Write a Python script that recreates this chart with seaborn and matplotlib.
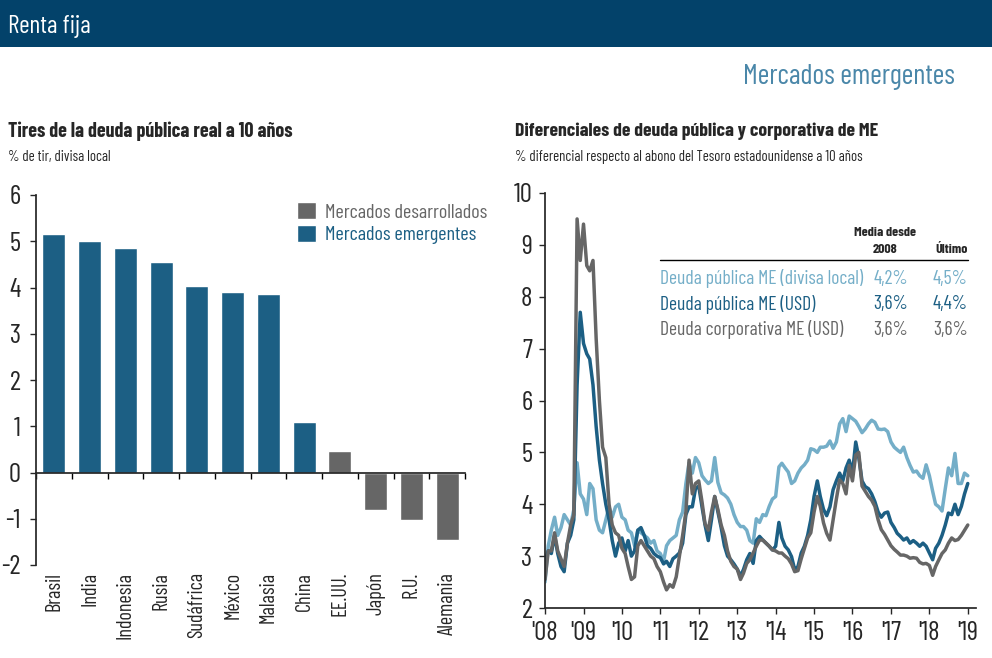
import numpy as np
import pandas as pd
import matplotlib
matplotlib.use("Agg")
import matplotlib.pyplot as plt
import matplotlib.dates as mdates
from matplotlib.patches import Rectangle
from matplotlib import font_manager as fm
import seaborn as sns

# %% datos: tires reales a 10 años
paises = ["Brasil", "India", "Indonesia", "Rusia", "Sudáfrica", "México",
          "Malasia", "China", "EE.UU.", "Japón", "R.U.", "Alemania"]
tir_real = [5.16, 5.01, 4.86, 4.56, 4.04, 3.91, 3.85, 1.10, 0.47, -0.82, -1.03, -1.45]
grupo = ["Mercados emergentes"] * 8 + ["Mercados desarrollados"] * 4
grupos_orden = ["Mercados desarrollados", "Mercados emergentes"]

# %% datos: diferenciales mensuales ene-2008 .. ene-2019
fechas = pd.date_range("2008-01-01", "2019-01-01", freq="MS")
deuda_local = [
    2.5, 3.2, 3.5, 3.75, 3.4, 3.55, 3.8, 3.7, 3.6, 3.9, 4.8, 4.2,
    4.1, 3.8, 4.4, 4.3, 3.7, 3.5, 3.45, 3.7, 3.95, 3.75, 3.95, 4.0,
    3.75, 3.7, 3.5, 3.45, 3.2, 3.5, 3.45, 3.4, 3.35, 3.25, 3.3, 3.1,
    3.05, 2.9, 3.2, 3.3, 3.35, 3.4, 3.7, 3.85, 4.4, 4.8, 4.6, 4.9,
    4.8, 4.55, 4.47, 4.4, 4.45, 4.9, 4.42, 4.22, 4.18, 4.12, 4.0, 3.8,
    3.65, 3.57, 3.57, 3.5, 3.3, 3.25, 3.72, 3.65, 3.8, 3.78, 3.96, 4.1,
    4.15, 4.72, 4.79, 4.7, 4.62, 4.4, 4.45, 4.6, 4.7, 4.76, 4.85, 5.07,
    5.05, 5.0, 5.1, 5.1, 5.12, 5.22, 5.08, 5.2, 5.55, 5.65, 5.4, 5.7,
    5.65, 5.6, 5.5, 5.38, 5.45, 5.55, 5.62, 5.58, 5.45, 5.44, 5.45, 5.4,
    5.2, 5.1, 5.05, 5.0, 5.1, 4.9, 4.75, 4.62, 4.64, 4.55, 4.5, 4.76,
    4.55, 4.25, 4.0, 3.95, 3.87, 4.3, 4.7, 4.55, 4.98, 4.4, 4.4, 4.6,
    4.55]
deuda_usd = [
    2.9, 3.1, 3.05, 3.4, 3.05, 2.8, 2.7, 3.25, 3.4, 3.7, 6.3, 7.7,
    7.1, 6.9, 6.8, 6.3, 5.5, 4.85, 4.4, 4.0, 3.7, 3.3, 3.0, 3.25,
    3.35, 3.1, 3.3, 3.0, 3.1, 3.5, 3.55, 3.4, 3.2, 3.15, 3.05, 3.0,
    2.97, 2.85, 2.9, 2.8, 2.95, 3.0, 3.06, 3.25, 3.8, 3.95, 3.95, 4.3,
    4.35, 3.95, 3.6, 3.3, 3.7, 4.15, 3.85, 3.55, 3.2, 3.0, 2.93, 2.85,
    2.75, 2.62, 2.74, 2.93, 3.05, 2.86, 3.3, 3.38, 3.31, 3.25, 3.19, 3.12,
    3.19, 3.65, 3.35, 3.19, 3.12, 2.99, 2.74, 2.8, 3.06, 3.19, 3.4, 3.7,
    4.15, 4.45, 4.15, 3.9, 3.78, 3.95, 4.28, 4.45, 4.6, 4.45, 4.7, 4.85,
    4.6, 5.2, 4.9, 4.45, 4.34, 4.3, 4.2, 4.05, 3.85, 3.75, 3.83, 3.85,
    3.65, 3.55, 3.44, 3.38, 3.31, 3.35, 3.25, 3.3, 3.25, 3.19, 3.25, 3.19,
    3.06, 2.93, 3.15, 3.25, 3.4, 3.6, 3.83, 3.8, 4.0, 3.8, 3.96, 4.2,
    4.4]
deuda_corp = [
    2.55, 3.1, 3.1, 3.45, 3.1, 2.95, 2.8, 3.25, 3.6, 3.8, 9.5, 8.7,
    9.4, 8.6, 8.5, 8.7, 7.2, 6.0, 5.1, 4.9, 4.0, 3.6, 3.45, 3.4,
    3.15, 3.05, 2.8, 2.55, 2.6, 3.2, 3.3, 3.2, 3.1, 3.0, 2.95, 2.8,
    2.7, 2.5, 2.35, 2.45, 2.4, 2.6, 3.0, 3.4, 3.85, 4.85, 4.2, 4.4,
    4.45, 4.05, 3.62, 3.5, 3.85, 4.15, 3.9, 3.6, 3.4, 3.1, 2.9, 2.8,
    2.75, 2.55, 2.67, 2.86, 2.93, 3.06, 3.19, 3.31, 3.31, 3.25, 3.19, 3.12,
    3.1, 3.06, 3.06, 3.0, 2.95, 2.85, 2.7, 2.72, 2.95, 3.15, 3.35, 3.45,
    3.85, 4.15, 3.96, 3.64, 3.44, 3.31, 3.7, 4.1, 4.47, 4.4, 4.2, 4.75,
    4.45, 4.95, 5.0, 4.35, 4.25, 4.15, 4.08, 3.96, 3.7, 3.51, 3.42, 3.31,
    3.2, 3.13, 3.08, 3.02, 3.02, 3.0, 2.96, 2.97, 2.96, 2.88, 2.85, 2.86,
    2.82, 2.63, 2.8, 2.93, 3.05, 3.12, 3.25, 3.35, 3.3, 3.32, 3.4, 3.5,
    3.6]
series = ["Deuda pública ME (divisa local)", "Deuda pública ME (USD)",
          "Deuda corporativa ME (USD)"]
media_2008 = ["4,2%", "3,6%", "3,6%"]
ultimo = ["4,5%", "4,4%", "3,6%"]

# colores
NAVY = "#03426a"
AZUL = "#1c5f84"
AZUL_CLARO = "#74aec8"
GRIS = "#666666"
TITULO = "#4a87a9"

sns.set_theme(style="ticks")
# fuente condensada si la hay
disponibles = {f.name for f in fm.fontManager.ttflist}
preferidas = ["Barlow Condensed", "Fira Sans Extra Condensed", "Roboto Condensed",
              "PT Sans Narrow", "IBM Plex Sans Condensed", "Liberation Sans Narrow"]
fuente = next((f for f in preferidas if f in disponibles), "DejaVu Sans")
plt.rcParams["font.family"] = [fuente, "DejaVu Sans"]
plt.rcParams["axes.unicode_minus"] = False

W, H = 992, 658
fig = plt.figure(figsize=(W / 100, H / 100), dpi=100)
renderer = fig.canvas.get_renderer()


def tamano(texto, ancho_px, **kw):
    # tamaño de letra para que el texto ocupe ancho_px
    t = fig.text(0, 0, texto, fontsize=10, **kw)
    w = t.get_window_extent(renderer).width
    t.remove()
    return 10 * ancho_px / w


s_tick = tamano("10", 19)
s_cat = tamano("Indonesia", 67)
s_leg = tamano("Mercados desarrollados", 163)
s_tab = tamano(series[0], 202)
s_hdr = tamano("Media desde", 62, fontweight="bold")

# cabecera
fig.add_artist(Rectangle((0, 1 - 47 / H), 1, 47 / H, transform=fig.transFigure,
                         facecolor=NAVY, edgecolor="none"))
fig.text(8 / W, 1 - 27 / H, "Renta fija", color="white",
         fontsize=tamano("Renta fija", 82), va="center")
fig.text(955 / W, 1 - 77 / H, "Mercados emergentes", color=TITULO,
         fontsize=tamano("Mercados emergentes", 214), ha="right", va="center")

t1 = "Tires de la deuda pública real a 10 años"
st1 = "% de tir, divisa local"
t2 = "Diferenciales de deuda pública y corporativa de ME"
st2 = "% diferencial respecto al abono del Tesoro estadounidense a 10 años"
fig.text(8 / W, 1 - 131 / H, t1, fontsize=tamano(t1, 284, fontweight="bold"),
         fontweight="bold", va="center")
fig.text(8 / W, 1 - 157 / H, st1, fontsize=tamano(st1, 102), va="center")
fig.text(515 / W, 1 - 131 / H, t2, fontsize=tamano(t2, 362, fontweight="bold"),
         fontweight="bold", va="center")
fig.text(515 / W, 1 - 157 / H, st2, fontsize=tamano(st2, 347), va="center")

# %% barras
df_bar = pd.DataFrame({"pais": paises, "tir": tir_real, "grupo": grupo})
ax1 = fig.add_axes([36 / W, 1 - 565 / H, 429 / W, 370 / H])
sns.barplot(data=df_bar, x="pais", y="tir", hue="grupo", hue_order=grupos_orden,
            palette={"Mercados desarrollados": GRIS, "Mercados emergentes": AZUL},
            dodge=False, width=0.64, saturation=1, ax=ax1)
ax1.set_xlim(-0.5, 11.5)
ax1.set_ylim(-2, 6)
ax1.set_yticks(range(-2, 7))
ax1.set_xlabel("")
ax1.set_ylabel("")
for s in ["top", "right"]:
    ax1.spines[s].set_visible(False)
ax1.spines["bottom"].set_position(("data", 0))
ax1.set_xticks(np.arange(-0.5, 12, 1.0), labels=[])
ax1.tick_params(axis="x", direction="out", length=4, width=1, color="black")
ax1.tick_params(axis="y", direction="out", length=4, width=1, labelsize=s_tick, pad=7)
sec = ax1.secondary_xaxis(0)
sec.set_xticks(range(len(paises)), labels=paises, rotation=90, fontsize=s_cat)
sec.tick_params(length=0, pad=5)
sec.spines["bottom"].set_visible(False)

sns.move_legend(ax1, "upper left", bbox_to_anchor=(0.565, 1.03), frameon=False,
                title=None, fontsize=s_leg, handlelength=0.95, handleheight=0.95,
                handletextpad=0.45, labelspacing=0.15)
for txt, col in zip(ax1.get_legend().get_texts(), [GRIS, AZUL]):
    txt.set_color(col)

# %% lineas
df_lin = pd.DataFrame({"fecha": fechas, series[0]: deuda_local,
                       series[1]: deuda_usd, series[2]: deuda_corp})
df_lin = df_lin.melt(id_vars="fecha", var_name="serie", value_name="valor")
ax2 = fig.add_axes([545 / W, 1 - 608 / H, 431 / W, 415 / H])
sns.lineplot(data=df_lin, x="fecha", y="valor", hue="serie", hue_order=series,
             palette=[AZUL_CLARO, AZUL, GRIS], linewidth=2.5, legend=False, ax=ax2)
ax2.set_xlim(pd.Timestamp("2008-01-01"), pd.Timestamp("2019-03-20"))
ax2.set_ylim(2, 10)
ax2.set_yticks(range(2, 11))
ax2.xaxis.set_major_locator(mdates.YearLocator())
ax2.xaxis.set_major_formatter(mdates.DateFormatter("'%y"))
ax2.set_xlabel("")
ax2.set_ylabel("")
for s in ["top", "right"]:
    ax2.spines[s].set_visible(False)
ax2.tick_params(direction="out", length=4, width=1, labelsize=s_tick, pad=5)

# tabla de medias
tr = ax2.transAxes
ax2.text(0.789, 0.906, "Media desde", transform=tr, ha="center", va="center",
         fontsize=s_hdr, fontweight="bold")
ax2.text(0.789, 0.865, "2008", transform=tr, ha="center", va="center",
         fontsize=s_hdr, fontweight="bold")
ax2.text(0.981, 0.865, "Último", transform=tr, ha="right", va="center",
         fontsize=s_hdr, fontweight="bold")
ax2.plot([0.267, 0.981], [0.8386, 0.8386], transform=tr, color="black", lw=1)
for i, (nom, col) in enumerate(zip(series, [AZUL_CLARO, AZUL, GRIS])):
    y = 0.793 - i * 0.0615
    ax2.text(0.267, y, nom, transform=tr, color=col, fontsize=s_tab, va="center")
    ax2.text(0.843, y, media_2008[i], transform=tr, color=col, fontsize=s_tab,
             va="center", ha="right")
    ax2.text(0.981, y, ultimo[i], transform=tr, color=col, fontsize=s_tab,
             va="center", ha="right")

fig.savefig("out.png", dpi=100)
